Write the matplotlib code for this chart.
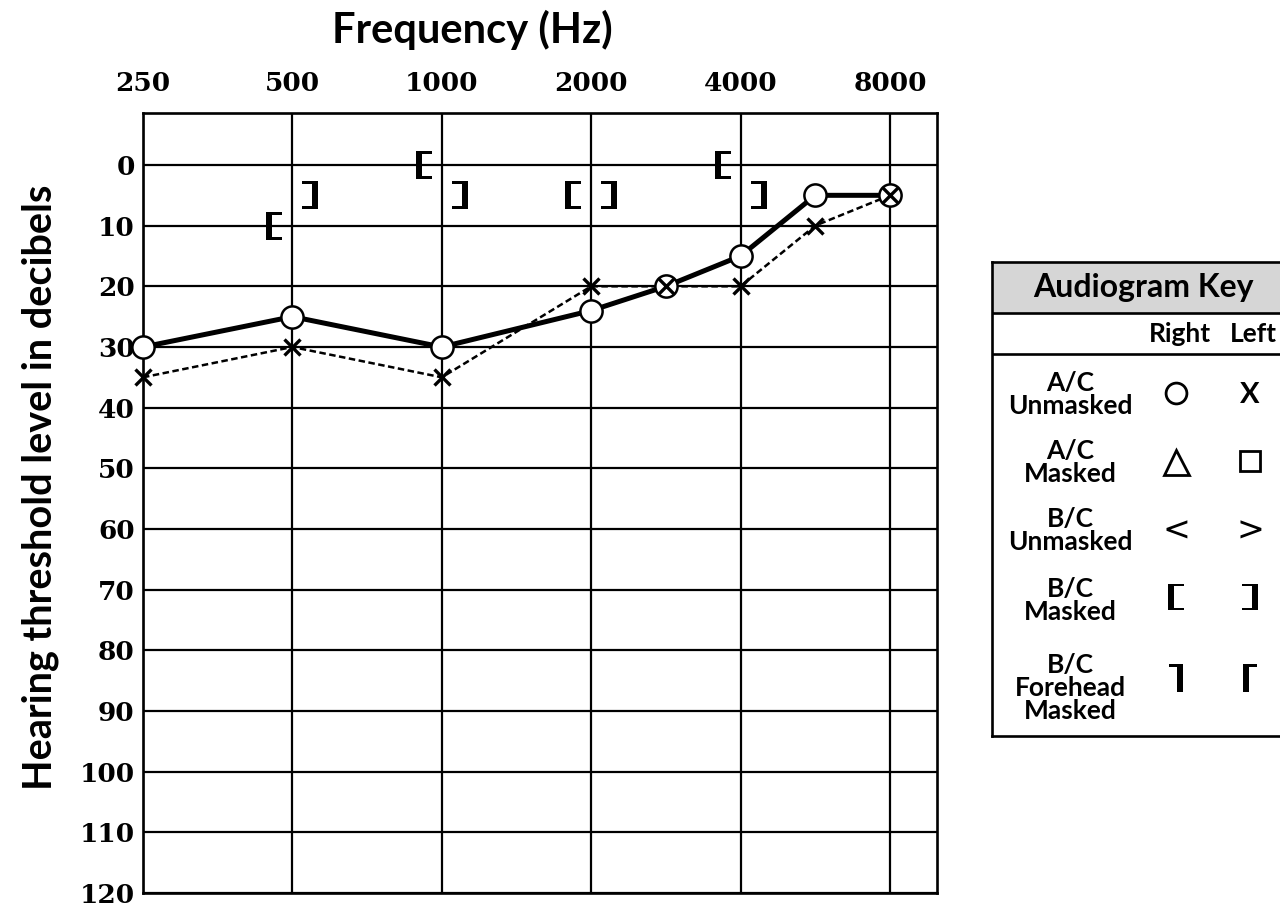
import numpy as np
import matplotlib
matplotlib.use('Agg')
import matplotlib.pyplot as plt
from matplotlib.path import Path
from matplotlib.patches import Rectangle
from matplotlib.transforms import offset_copy


# DATOS

FRECUENCIAS_EJE = [250, 500, 1000, 2000, 4000, 8000]
ETIQUETAS_EJE   = ['250', '500', '1000', '2000', '4000', '8000']
NIVELES_DB      = list(range(0, 130, 10))

# Conduccion aerea (sin enmascarar)
FREC_AEREA      = [250, 500, 1000, 2000, 3000, 4000, 6000, 8000]
DERECHA_AEREA   = [30, 25, 30, 24, 20, 15, 5, 5]
IZQUIERDA_AEREA = [35, 30, 35, 20, 20, 20, 10, 5]

# Conduccion osea enmascarada
FREC_OSEA       = [500, 1000, 2000, 4000]
DERECHA_OSEA    = [10, 0, 5, 0]
IZQUIERDA_OSEA  = [5, 5, 5, 5]

FILAS_CLAVE = ['A/C\nUnmasked', 'A/C\nMasked', 'B/C\nUnmasked',
               'B/C\nMasked', 'B/C\nForehead\nMasked']


# ESCALA: octavas equiespaciadas, 3000 y 6000 en el punto medio

ANCLAS = np.array([250, 500, 1000, 2000, 4000, 8000, 16000], dtype=float)


def a_posicion(f):
    return np.interp(f, ANCLAS, np.arange(len(ANCLAS)))


def a_frecuencia(p):
    return np.interp(p, np.arange(len(ANCLAS)), ANCLAS)


# MARCADORES (corchetes)

def marcador(verts):
    codes = [Path.MOVETO] + [Path.LINETO] * (len(verts) - 2) + [Path.CLOSEPOLY]
    return Path(verts, codes)


CORCHETE_IZQ = marcador([(-0.57, -1), (0.57, -1), (0.57, -0.82), (-0.14, -0.82),
                         (-0.14, 0.82), (0.57, 0.82), (0.57, 1), (-0.57, 1), (-0.57, -1)])
CORCHETE_DER = marcador([(0.57, -1), (-0.57, -1), (-0.57, -0.82), (0.14, -0.82),
                         (0.14, 0.82), (-0.57, 0.82), (-0.57, 1), (0.57, 1), (0.57, -1)])
FRENTE_DER = marcador([(0.5, 1), (-0.5, 1), (-0.5, 0.82), (0.08, 0.82),
                       (0.08, -1), (0.5, -1), (0.5, 1)])
FRENTE_IZQ = marcador([(-0.5, 1), (0.5, 1), (0.5, 0.82), (-0.08, 0.82),
                       (-0.08, -1), (-0.5, -1), (-0.5, 1)])

SANS  = ['Lato', 'DejaVu Sans']
SERIF = ['DejaVu Serif']

W, H = 1280, 907
fig = plt.figure(figsize=(W / 100, H / 100), dpi=100)


def fx(x):
    return x / W


def fy(y):
    return 1 - y / H


# AUDIOGRAMA

ax = fig.add_axes([fx(143), fy(893), (937 - 143) / W, (893 - 113) / H])
ax.set_xscale('function', functions=(a_posicion, a_frecuencia))
ax.set_xlim(250, a_frecuencia(5.315))
ax.set_ylim(120, -8.57)
ax.set_xticks(FRECUENCIAS_EJE, ETIQUETAS_EJE)
ax.set_yticks(NIVELES_DB)
ax.xaxis.set_minor_locator(matplotlib.ticker.NullLocator())
ax.xaxis.tick_top()
ax.tick_params(axis='both', length=0, labelsize=19)
ax.tick_params(axis='x', pad=12)
ax.tick_params(axis='y', pad=6)
for lab in ax.get_xticklabels() + ax.get_yticklabels():
    lab.set_family(SERIF)
    lab.set_fontweight('bold')
ax.grid(True, color='black', linewidth=1.6)
ax.set_axisbelow(True)
for sp in ax.spines.values():
    sp.set_linewidth(1.9)

ax.plot(FREC_AEREA, IZQUIERDA_AEREA, color='black', linewidth=1.8,
        linestyle=(0, (2.6, 1.4)), zorder=3)
ax.plot(FREC_AEREA, DERECHA_AEREA, color='black', linewidth=3.6, zorder=4,
        marker='o', markersize=16, markerfacecolor='white',
        markeredgecolor='black', markeredgewidth=1.8, clip_on=False)
ax.plot(FREC_AEREA, IZQUIERDA_AEREA, linestyle='none', marker='x',
        markersize=12, markeredgewidth=2.4, color='black', zorder=5, clip_on=False)

trans_izq = offset_copy(ax.transData, fig=fig, x=-18, y=0, units='dots')
trans_der = offset_copy(ax.transData, fig=fig, x=18, y=0, units='dots')
ax.plot(FREC_OSEA, DERECHA_OSEA, linestyle='none', marker=CORCHETE_IZQ,
        markersize=20, color='black', markeredgewidth=0, transform=trans_izq)
ax.plot(FREC_OSEA, IZQUIERDA_OSEA, linestyle='none', marker=CORCHETE_DER,
        markersize=20, color='black', markeredgewidth=0, transform=trans_der)

fig.text(fx(472), fy(30), 'Frequency (Hz)', ha='center', va='center',
         fontsize=30, family=SANS, fontweight='bold')
fig.text(fx(40), fy(487), 'Hearing threshold level in decibels', ha='center',
         va='center', rotation=90, fontsize=28.5, family=SANS, fontweight='bold')


# CLAVE

kx = fig.add_axes([fx(992), fy(736), (1320 - 992) / W, (736 - 262) / H])
kx.set_xlim(992, 1320)
kx.set_ylim(736, 262)
kx.set_xticks([])
kx.set_yticks([])
for sp in kx.spines.values():
    sp.set_linewidth(1.9)
kx.add_patch(Rectangle((992, 262), 330, 51, facecolor='#d6d6d6', edgecolor='none'))
kx.axhline(313, color='black', linewidth=1.9)
kx.axhline(354, color='black', linewidth=1.9)
kx.text(1143, 288, 'Audiogram Key', ha='center', va='center', fontsize=23,
        family=SANS, fontweight='bold')
kx.text(1180, 334, 'Right', ha='center', va='center', fontsize=19,
        family=SANS, fontweight='bold')
kx.text(1253, 334, 'Left', ha='center', va='center', fontsize=19,
        family=SANS, fontweight='bold')

filas_y = [395, 462, 531, 600, 688]
for texto, y in zip(FILAS_CLAVE, filas_y):
    kx.text(1070, y, texto, ha='center', va='center', fontsize=19,
            family=SANS, fontweight='bold', linespacing=0.95)

xd, xi = 1176, 1250
kx.plot(xd, 393, marker='o', markersize=15, markerfacecolor='white',
        markeredgecolor='black', markeredgewidth=2)
kx.text(xi, 395, 'X', ha='center', va='center', fontsize=21, family=SANS,
        fontweight='bold')
kx.plot(xd, 462, marker='^', markersize=18, markerfacecolor='white',
        markeredgecolor='black', markeredgewidth=2)
kx.plot(xi, 461, marker='s', markersize=15, markerfacecolor='white',
        markeredgecolor='black', markeredgewidth=2)
kx.text(xd, 531, '<', ha='center', va='center', fontsize=24, family=['DejaVu Sans'])
kx.text(xi, 531, '>', ha='center', va='center', fontsize=24, family=['DejaVu Sans'])
kx.plot(xd, 597, marker=CORCHETE_IZQ, markersize=19, color='black', markeredgewidth=0)
kx.plot(xi, 597, marker=CORCHETE_DER, markersize=19, color='black', markeredgewidth=0)
kx.plot(xd, 678, marker=FRENTE_DER, markersize=20, color='black', markeredgewidth=0)
kx.plot(xi, 678, marker=FRENTE_IZQ, markersize=20, color='black', markeredgewidth=0)

fig.savefig('out.png', dpi=100)
